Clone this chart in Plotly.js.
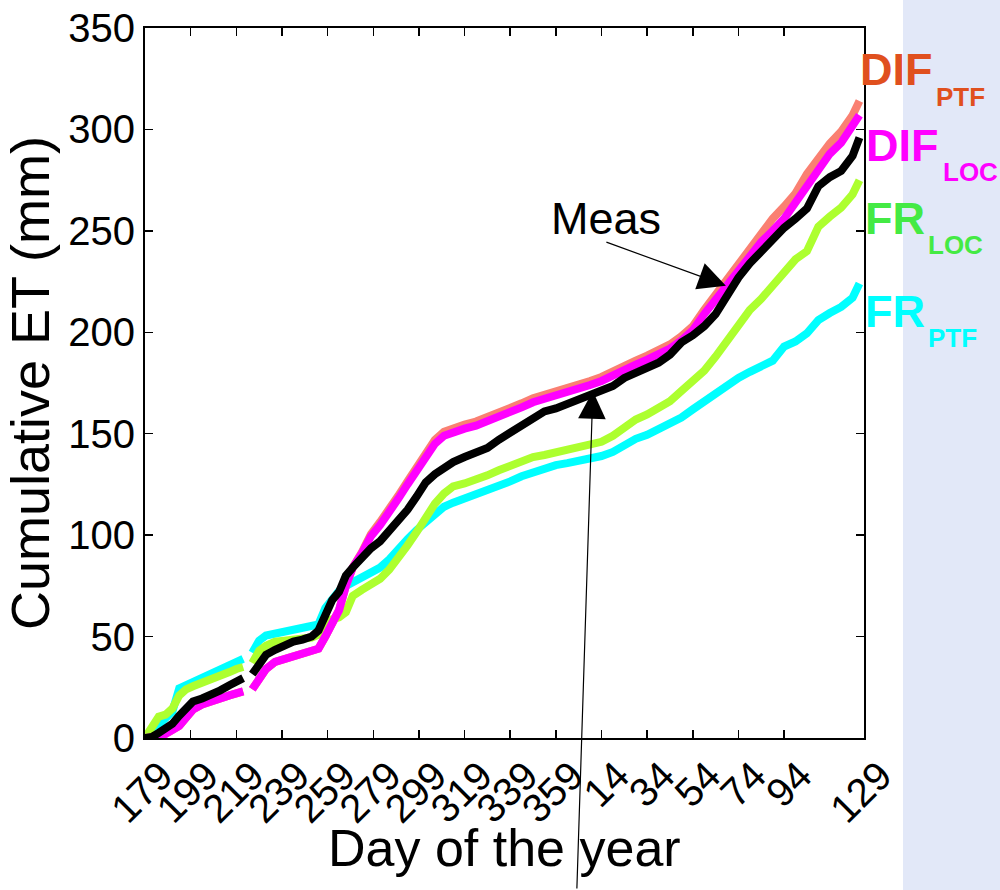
<!DOCTYPE html>
<html>
<head>
<meta charset="utf-8">
<script src="https://cdn.plot.ly/plotly-3.0.1.min.js"></script>
<style>
  html, body { margin: 0; padding: 0; background: #ffffff; }
  #chart { width: 1000px; height: 890px; }
</style>
</head>
<body>
<div id="chart"></div>
<script>
// Days counted from the start of the season (day 0 = DOY 179); the null row marks the data gap.
const seasonDay = [0,3,6,9,12,15,18,21,25,29,33,37,40,43,44,
  47,50,53,57,61,65,69,73,76,79,82,85,88,91,95,99,103,107,111,115,119,123,127,131,135,
  140,145,150,155,160,165,170,175,180,185,190,195,200,205,210,215,220,225,230,235,240,
  245,250,255,260,265,270,275,280,285,290,295,300,305,310,313];

// Cumulative ET (mm)
const frPtf = [0,3.5,6,9.5,13,24.5,26,28,30,32,34.5,36.5,38,39,null,
  42,48,50.5,51.5,52,53,53.5,54.5,56,64,69,72.5,75,77,79,81.5,84,88,93.5,98,102.5,106.5,111,114,116,
  118,119.5,121.5,124,126.5,129,131,133,134.5,135.5,136.5,137,139,141,144.5,147.5,149.5,152,154.5,158,162,
  166,170,174,177.5,180.5,183,186,193,195.5,199.5,206,209.5,212.5,217,224];

const frLoc = [0,5,10.5,11.5,14.5,21,24,25.5,27,28.5,30.5,32.5,34,35,null,
  37,43,45.5,47.5,48,48.5,49,49.5,51,57,58.5,59.5,62,70,73,75.5,78.5,83,88.5,95,101.5,108.5,115.5,120.5,124,
  125.5,127,129.5,132,134.5,136,138.5,139.5,141,142,143,144.5,146,149,153.5,157,159.5,162.5,166,171,175.5,
  181,188,196,204.5,211,216.5,223,230.5,236,240,252,257,261.5,268,275];

const difPtf = [0,0,0.5,2,4,6,10,14,16.5,18.5,19.5,21,22,23,null,
  24,29,34,37.5,39,40.5,41.5,42.5,44,50,57,63,75,84,91.5,100.5,106.5,112.5,119.5,126.5,133.5,141,147,151,153,
  154.5,156,158,160,162.5,165,167.5,169,170.5,172,174,176,178,181,183.5,186,188.5,191,194,198,203,
  211,218.5,227,235,242.5,249.5,256,262,268.5,278,286,293,299,307,314];

const difLoc = [0,0,0.5,2,4,6,10,14,16.5,18.5,19.5,21,22,23,null,
  24,29,34,37.5,39,40.5,41.5,42.5,44,50,57,63,75,84,91,99.5,105,111,118,125,132,139,145,149,151,
  152.5,154,156,158,160.5,163,165.5,167,168.5,170,172,174,176,179,181.5,184,186.5,189,192,196,201,
  209,216,224,231.5,238.5,244.5,250,256,264,272,281,288,293.5,301,307];

const measured = [0,0.5,2.5,5,7,11,15,18,19.5,21,23.5,26,27.5,29.5,null,
  31.5,37,41,43.5,46,47.5,48.5,50,53,60,68,72,80,84,89,93.5,97,102,107,112.5,119,126,130,133.5,136,
  138.5,140.5,143,147,150.5,154,158,161,162.5,164.5,166.5,169.5,171.5,173.5,177.5,180,182.5,185,189,195,198.5,
  203,209,219,227,234,240,246,251.5,256,261,272,276.5,279.5,287,296];

// Axis ticks: season day positions and the day-of-year labels shown there
const tickDays = [0,20,40,60,80,100,120,140,160,180,200,220,240,260,280,315];
const tickLabels = ['179','199','219','239','259','279','299','319','339','359','14','34','54','74','94','129'];

// Series labels drawn at the right edge
const seriesNames = [
  {main: 'DIF', sub: 'PTF', color: '#e0501e'},
  {main: 'DIF', sub: 'LOC', color: '#ff00ff'},
  {main: 'FR',  sub: 'LOC', color: '#44ea44'},
  {main: 'FR',  sub: 'PTF', color: '#00ffff'}
];

const line = (y, color, name) => ({
  x: seasonDay, y: y, name: name, type: 'scatter', mode: 'lines',
  connectgaps: false, hoverinfo: 'skip',
  line: {color: color, width: 8}
});

const traces = [
  line(frPtf, '#00ffff', 'FR PTF'),
  line(frLoc, '#adff2f', 'FR LOC'),
  line(difPtf, '#fa8072', 'DIF PTF'),
  line(difLoc, '#ff00ff', 'DIF LOC'),
  line(measured, '#000000', 'Meas')
];

// plot area in pixels: left 145, right 864, top 28, bottom 738
const L = 145, R = 864, T = 28, B = 738;
const px = v => (v - L) / (R - L);
const py = v => (B - v) / (B - T);

const labelPos = [
  {mx: 858, my: 69,  sx: 934, sy: 97},
  {mx: 864, my: 145, sx: 941, sy: 172},
  {mx: 863, my: 219, sx: 926, sy: 245},
  {mx: 863, my: 311, sx: 926, sy: 338}
];

const annotations = [];
seriesNames.forEach((s, i) => {
  const p = labelPos[i];
  annotations.push({
    xref: 'paper', yref: 'paper', x: px(p.mx), y: py(p.my),
    xanchor: 'left', yanchor: 'middle', showarrow: false,
    text: '<b>' + s.main + '</b>',
    font: {size: 45, color: s.color, family: 'Liberation Sans, Arial, sans-serif'}
  });
  annotations.push({
    xref: 'paper', yref: 'paper', x: px(p.sx), y: py(p.sy),
    xanchor: 'left', yanchor: 'middle', showarrow: false,
    text: '<b>' + s.sub + '</b>',
    font: {size: 26, color: s.color, family: 'Liberation Sans, Arial, sans-serif'}
  });
});

// x axis title, set just under the slanted tick labels
annotations.push({
  xref: 'paper', yref: 'paper', x: 0.5, y: py(848),
  xanchor: 'center', yanchor: 'middle', showarrow: false,
  text: 'Day of the year', font: {size: 52, color: '#000000'}
});

// "Meas" label with its two pointers onto the measured curve
annotations.push({
  xref: 'x', yref: 'y', x: 202, y: 256, showarrow: false,
  text: 'Meas', font: {size: 45, color: '#000000'}
});
annotations.push({
  xref: 'x', yref: 'y', x: 254.5, y: 223, text: '',
  showarrow: true, arrowhead: 2, arrowsize: 4.6, arrowwidth: 1.2, arrowcolor: '#000000',
  ax: -121, ay: -44
});
annotations.push({
  xref: 'x', yref: 'y', x: 196.2, y: 171, text: '',
  showarrow: true, arrowhead: 2, arrowsize: 4.6, arrowwidth: 1.2, arrowcolor: '#000000',
  ax: -16, ay: 600
});

const axisCommon = {
  showline: true, linecolor: '#000000', linewidth: 2, mirror: 'ticks',
  ticks: 'inside', ticklen: 8, tickwidth: 1.5, tickcolor: '#000000',
  showgrid: false, zeroline: false, automargin: false,
  tickfont: {size: 40, color: '#000000'}
};

const layout = {
  width: 1000, height: 890,
  margin: {l: L, r: 1000 - R, t: T, b: 890 - B, pad: 0},
  paper_bgcolor: 'rgba(0,0,0,0)', plot_bgcolor: 'rgba(0,0,0,0)',
  showlegend: false,
  font: {family: 'Liberation Sans, Arial, sans-serif', color: '#000000'},
  xaxis: Object.assign({}, axisCommon, {
    range: [0, 315], tickmode: 'array', tickvals: tickDays, ticktext: tickLabels,
    tickangle: -45, ticklabelshift: 16, ticklabelstandoff: -4
  }),
  yaxis: Object.assign({}, axisCommon, {
    range: [0, 350], tickmode: 'linear', tick0: 0, dtick: 50,
    title: {text: 'Cumulative ET (mm)', font: {size: 54, color: '#000000'}, standoff: 6}
  }),
  shapes: [{
    type: 'rect', xref: 'paper', yref: 'paper', layer: 'below',
    x0: px(903), x1: px(1010), y0: py(900), y1: py(-10),
    fillcolor: '#e2e8f8', line: {width: 0}
  }],
  annotations: annotations
};

Plotly.newPlot('chart', traces, layout, {displayModeBar: false, staticPlot: true});
</script>
</body>
</html>
